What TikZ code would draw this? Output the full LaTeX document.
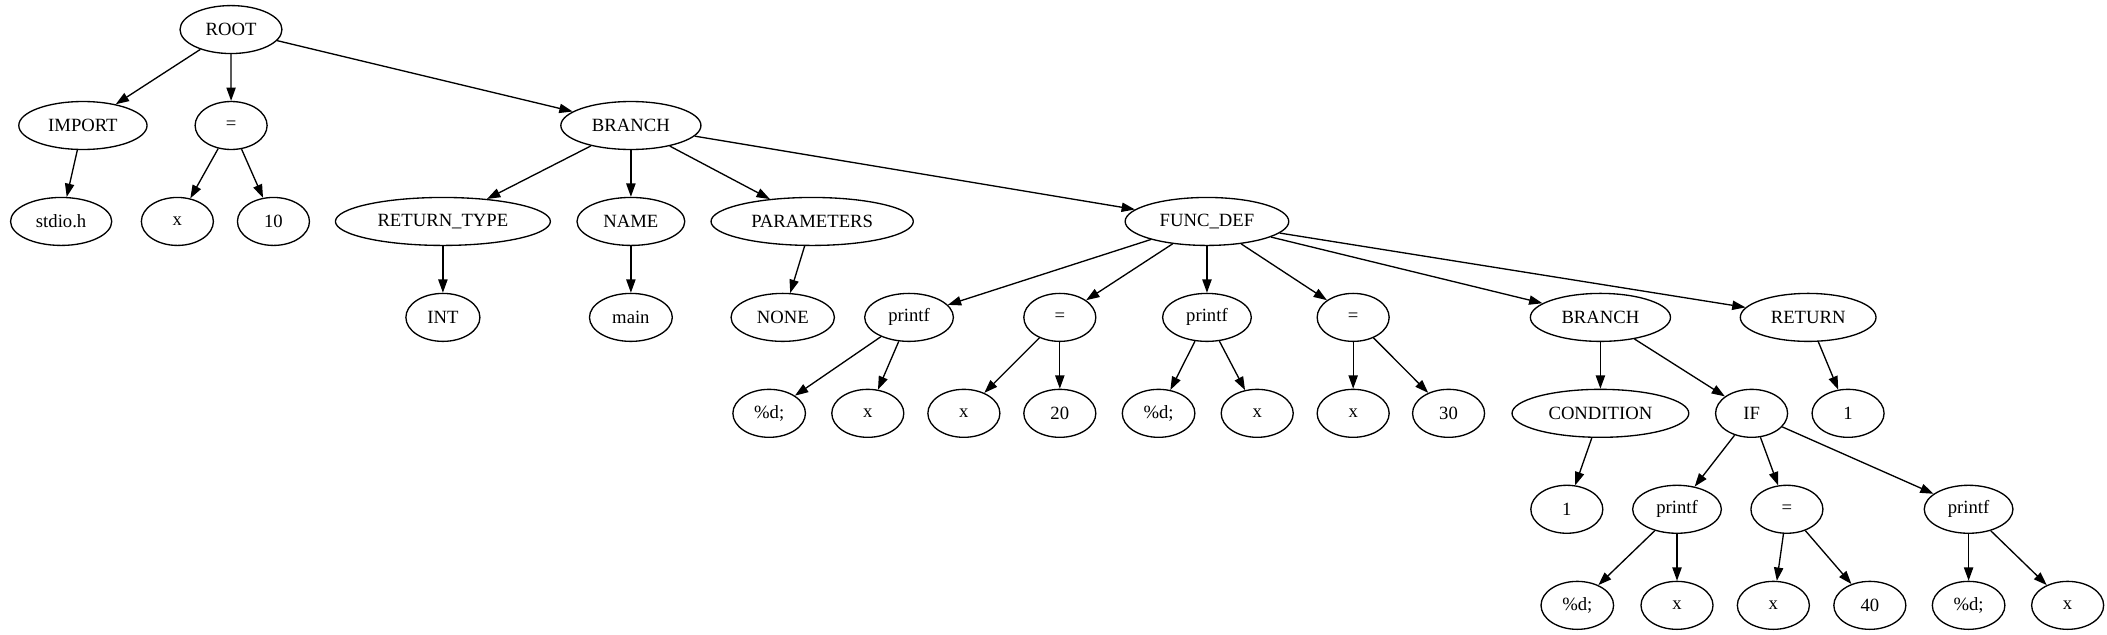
\documentclass[tikz,border=0pt]{standalone}
\usepackage{fontspec}
\setmainfont{Liberation Serif}
\usetikzlibrary{shapes.geometric,arrows.meta}

\begin{document}
\begin{tikzpicture}[x=1pt,y=1pt,yscale=-1,
	ast/.style={draw, ellipse, line width=0.99pt, inner xsep=7.9pt, inner ysep=2pt, minimum width=53.6pt, minimum height=35.7pt, font=\fontsize{13.9}{16}\selectfont},
	edge/.style={line width=0.99pt, -{Triangle[length=9.9pt,width=6.9pt]}}]
	%set diagram left start at 0, and has height of 472.5
	\useasboundingbox (0,0) rectangle (1568,472.5);
	
	% Rank 0
	\node [ast] (root) at (171.9,22) {ROOT};
	% Rank 1
	\node [ast] (import) at (61.7,93.4) {IMPORT};
	\node [ast] (asg) at (172,93.4) {=};
	\node [ast] (branch) at (469.5,93.4) {BRANCH};
	% Rank 2
	\node [ast] (stdio) at (45.5,164.8) {stdio.h};
	\node [ast] (asgx) at (132,164.8) {x};
	\node [ast] (asgval) at (203.5,164.8) {10};
	\node [ast] (rettype) at (329.6,164.8) {RETURN\_TYPE};
	\node [ast] (name) at (469.5,164.8) {NAME};
	\node [ast] (params) at (604.4,164.8) {PARAMETERS};
	\node [ast] (funcdef) at (898.2,164.8) {FUNC\_DEF};
	% Rank 3
	\node [ast] (int) at (329.6,236.2) {INT};
	\node [ast] (main) at (469.5,236.2) {main};
	\node [ast] (none) at (582.5,236.2) {NONE};
	\node [ast] (printfA) at (676.5,236.2) {printf};
	\node [ast] (asgB) at (788.7,236.2) {=};
	\node [ast] (printfC) at (898.2,236.2) {printf};
	\node [ast] (asgD) at (1007,236.2) {=};
	\node [ast] (branchE) at (1191,236.2) {BRANCH};
	\node [ast] (return) at (1345.6,236.2) {RETURN};
	% Rank 4
	\node [ast] (fmtA) at (572.4,307.6) {\%d;};
	\node [ast] (argA) at (645.8,307.6) {x};
	\node [ast] (varB) at (717.3,307.6) {x};
	\node [ast] (valB) at (788.7,307.6) {20};
	\node [ast] (fmtC) at (862.2,307.6) {\%d;};
	\node [ast] (argC) at (935.6,307.6) {x};
	\node [ast] (varD) at (1007,307.6) {x};
	\node [ast] (valD) at (1078,307.6) {30};
	\node [ast] (cond) at (1191,307.6) {CONDITION};
	\node [ast] (if) at (1303.5,307.6) {IF};
	\node [ast] (retval) at (1375.3,307.6) {1};
	% Rank 5
	\node [ast] (condval) at (1166,379) {1};
	\node [ast] (printfF) at (1248,379) {printf};
	\node [ast] (asgG) at (1329.8,379) {=};
	\node [ast] (printfH) at (1465,379) {printf};
	% Rank 6
	\node [ast] (fmtF) at (1173.8,450.5) {\%d;};
	\node [ast] (argF) at (1248,450.5) {x};
	\node [ast] (varG) at (1319.7,450.5) {x};
	\node [ast] (valG) at (1391.5,450.5) {40};
	\node [ast] (fmtH) at (1465,450.5) {\%d;};
	\node [ast] (argH) at (1538.7,450.5) {x};
	
	%Straight Lines from ROOT
	\draw [edge] (root) -- (import);
	\draw [edge] (root) -- (asg);
	\draw [edge] (root) -- (branch);
	%Straight Lines from IMPORT and =
	\draw [edge] (import) -- (stdio);
	\draw [edge] (asg) -- (asgx);
	\draw [edge] (asg) -- (asgval);
	%Straight Lines from BRANCH
	\draw [edge] (branch) -- (rettype);
	\draw [edge] (branch) -- (name);
	\draw [edge] (branch) -- (params);
	\draw [edge] (branch) -- (funcdef);
	\draw [edge] (rettype) -- (int);
	\draw [edge] (name) -- (main);
	\draw [edge] (params) -- (none);
	%Straight Lines from FUNC_DEF
	\draw [edge] (funcdef) -- (printfA);
	\draw [edge] (funcdef) -- (asgB);
	\draw [edge] (funcdef) -- (printfC);
	\draw [edge] (funcdef) -- (asgD);
	\draw [edge] (funcdef) -- (branchE);
	\draw [edge] (funcdef) -- (return);
	\draw [edge] (printfA) -- (fmtA);
	\draw [edge] (printfA) -- (argA);
	\draw [edge] (asgB) -- (varB);
	\draw [edge] (asgB) -- (valB);
	\draw [edge] (printfC) -- (fmtC);
	\draw [edge] (printfC) -- (argC);
	\draw [edge] (asgD) -- (varD);
	\draw [edge] (asgD) -- (valD);
	%Straight Lines from inner BRANCH
	\draw [edge] (branchE) -- (cond);
	\draw [edge] (branchE) -- (if);
	\draw [edge] (return) -- (retval);
	\draw [edge] (cond) -- (condval);
	%Straight Lines from IF
	\draw [edge] (if) -- (printfF);
	\draw [edge] (if) -- (asgG);
	\draw [edge] (if) -- (printfH);
	\draw [edge] (printfF) -- (fmtF);
	\draw [edge] (printfF) -- (argF);
	\draw [edge] (asgG) -- (varG);
	\draw [edge] (asgG) -- (valG);
	\draw [edge] (printfH) -- (fmtH);
	\draw [edge] (printfH) -- (argH);
\end{tikzpicture}
\end{document}
